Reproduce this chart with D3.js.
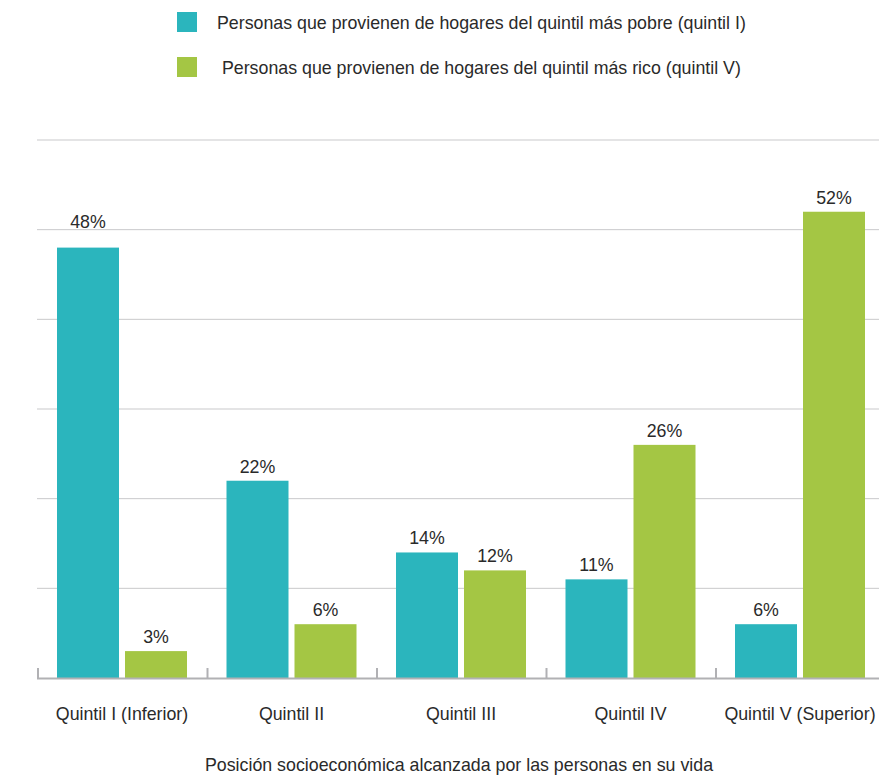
<!DOCTYPE html>
<html>
<head>
<meta charset="utf-8">
<script src="https://cdn.jsdelivr.net/npm/d3@7"></script>
<style>
  body { margin: 0; background: #fff; }
  svg { display: block; font-family: "Liberation Sans", Arial, sans-serif; }
</style>
</head>
<body>
<div id="chart"></div>
<script>
const categories = ["Quintil I (Inferior)", "Quintil II", "Quintil III", "Quintil IV", "Quintil V (Superior)"];
const seriesNames = [
    "Personas que provienen de hogares del quintil más pobre (quintil I)",
    " Personas que provienen de hogares del quintil más rico (quintil V)"
];
const poorest = [48, 22, 14, 11, 6];
const richest = [3, 6, 12, 26, 52];
const yTicks = [0, 10, 20, 30, 40, 50, 60];
const axisTitle = "Posición socioeconómica alcanzada por las personas en su vida";

const colors = ["#2bb5bd", "#a4c644"];
const width = 879, height = 776;
const fontSize = "17.8px";

const svg = d3.select("#chart").append("svg")
    .attr("width", width)
    .attr("height", height);

const x0 = d3.scaleBand()
    .domain(categories)
    .range([37, 884.5])
    .padding(0);

const x1 = d3.scaleBand()
    .domain([0, 1])
    .range([20, 150])
    .paddingInner(6 / 68)
    .paddingOuter(0);

const y = d3.scaleLinear()
    .domain([0, 60])
    .range([678, 140]);

// gridlines
svg.append("g")
    .selectAll("line")
    .data(yTicks.filter(d => d > 0))
    .enter().append("line")
    .attr("x1", 37)
    .attr("x2", width)
    .attr("y1", d => y(d))
    .attr("y2", d => y(d))
    .style("stroke", "#c9c9cb")
    .style("stroke-width", 1);

// bars
const data = categories.map((c, i) => ({ cat: c, values: [poorest[i], richest[i]] }));

const groups = svg.append("g")
    .selectAll("g")
    .data(data)
    .enter().append("g")
    .attr("transform", d => `translate(${x0(d.cat)},0)`);

groups.selectAll("rect")
    .data(d => d.values.map((v, k) => ({ k, v })))
    .enter().append("rect")
    .attr("x", d => x1(d.k))
    .attr("width", x1.bandwidth())
    .attr("y", d => y(d.v))
    .attr("height", d => y(0) - y(d.v))
    .attr("fill", d => colors[d.k]);

// value labels, pushed above a gridline when they would cross it
groups.selectAll("text")
    .data(d => d.values.map((v, k) => ({ k, v })))
    .enter().append("text")
    .attr("x", d => x1(d.k) + x1.bandwidth() / 2)
    .attr("y", d => {
        let base = y(d.v) - 8;
        yTicks.forEach(t => {
            const gy = y(t);
            if (t > 0 && gy > base - 15 && gy < base) base = gy - 2;
        });
        return base;
    })
    .attr("text-anchor", "middle")
    .style("font-size", fontSize)
    .style("fill", "#2a2a2a")
    .text(d => d.v + "%");

// axis baseline and ticks
svg.append("line")
    .attr("x1", 37).attr("x2", width)
    .attr("y1", y(0) + 0.5).attr("y2", y(0) + 0.5)
    .style("stroke", "#b1b1b4")
    .style("stroke-width", 2);

svg.append("g")
    .selectAll("line")
    .data(categories)
    .enter().append("line")
    .attr("x1", d => x0(d) + 1)
    .attr("x2", d => x0(d) + 1)
    .attr("y1", y(0) - 10)
    .attr("y2", y(0))
    .style("stroke", "#b1b1b4")
    .style("stroke-width", 2);

// category labels
svg.append("g")
    .selectAll("text")
    .data(categories)
    .enter().append("text")
    .attr("x", d => x0(d) + 85)
    .attr("y", 720)
    .attr("text-anchor", "middle")
    .style("font-size", fontSize)
    .style("fill", "#2a2a2a")
    .text(d => d);

// axis title
svg.append("text")
    .attr("x", 459)
    .attr("y", 771)
    .attr("text-anchor", "middle")
    .style("font-size", fontSize)
    .style("fill", "#2a2a2a")
    .text(axisTitle);

// legend
const legend = svg.append("g")
    .selectAll("g")
    .data(seriesNames)
    .enter().append("g")
    .attr("transform", (d, i) => `translate(177,${12 + i * 45})`);

legend.append("rect")
    .attr("width", 20)
    .attr("height", 20)
    .attr("fill", (d, i) => colors[i]);

legend.append("text")
    .attr("x", 40)
    .attr("y", 17)
    .style("font-size", fontSize)
    .style("fill", "#2a2a2a")
    .style("white-space", "pre")
    .text(d => d);
</script>
</body>
</html>
